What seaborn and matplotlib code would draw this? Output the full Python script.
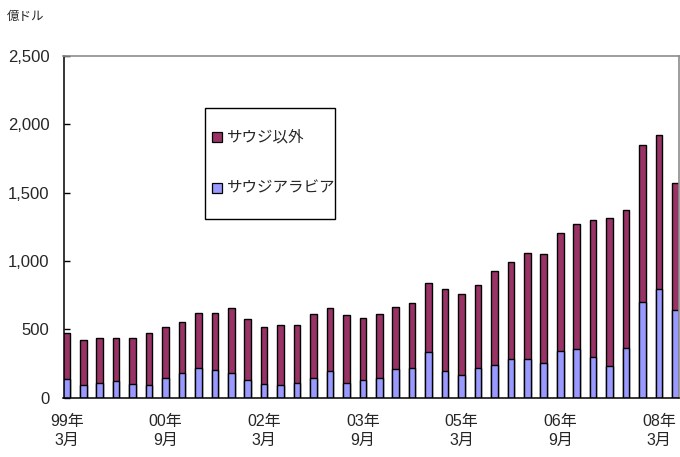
import matplotlib
matplotlib.use("Agg")
import matplotlib.pyplot as plt
from matplotlib.patches import Rectangle
from matplotlib.ticker import FuncFormatter, MultipleLocator
import pandas as pd
import seaborn as sns

# Quarterly periods, March 1999 to June 2008
periods = [f"{y:02d}年{m}月" for y in list(range(99, 100)) + list(range(0, 9))
           for m in (3, 6, 9, 12)][:38]

# Values in 100 million dollars
saudi = [139, 95, 110, 119, 102, 95, 144, 178, 214, 205,
         178, 129, 102, 95, 110, 145, 198, 105, 129, 146,
         207, 217, 332, 195, 163, 220, 236, 283, 283, 256,
         341, 354, 300, 232, 366, 700, 798, 639]
others = [332, 324, 326, 317, 334, 378, 376, 378, 408, 417,
          478, 449, 418, 436, 421, 470, 458, 503, 454, 469,
          459, 476, 507, 600, 595, 607, 689, 707, 776, 793,
          863, 917, 998, 1080, 1010, 1149, 1122, 930]

tick_idx = [0, 6, 12, 18, 24, 30, 36]
tick_labels = ["99年\n3月", "00年\n9月", "02年\n3月", "03年\n9月",
               "05年\n3月", "06年\n9月", "08年\n3月"]

legend_labels = ["サウジ以外", "サウジアラビア"]
unit_label = "億ドル"

col_others = "#993366"
col_saudi = "#9999FF"

sns.set_style("white")
plt.rcParams["font.family"] = ["Liberation Sans", "Noto Sans CJK JP"]

df = pd.DataFrame({"period": periods, "saudi": saudi, "others": others})
df["total"] = df["saudi"] + df["others"]

W, H = 680, 457
fig = plt.figure(figsize=(W / 100, H / 100), dpi=100)
ax = fig.add_axes([63.5 / W, (H - 397.7) / H, (679.3 - 63.5) / W, (397.7 - 56) / H])

bar_kw = dict(width=0.4, edgecolor="black", linewidth=1.0, saturation=1,
              errorbar=None, order=periods, ax=ax)
# Stacked bars: full height drawn first, Saudi share drawn over it
sns.barplot(data=df, x="period", y="total", color=col_others, **bar_kw)
sns.barplot(data=df, x="period", y="saudi", color=col_saudi, **bar_kw)

ax.set_xlim(-0.2, 37.24)
ax.set_ylim(0, 2500)
ax.yaxis.set_major_locator(MultipleLocator(500))
ax.yaxis.set_major_formatter(FuncFormatter(lambda v, p: f"{int(v):,}"))
ax.set_xticks(tick_idx)
ax.set_xticklabels(tick_labels, fontsize=11.5, linespacing=1.3)
ax.set_xlabel("")
ax.set_ylabel("")

ax.tick_params(axis="x", length=0, pad=12)
ax.tick_params(axis="y", direction="in", length=4, width=1, color="black",
               pad=10, labelsize=12, left=True)

for side in ("left", "bottom"):
    ax.spines[side].set_color("black")
    ax.spines[side].set_linewidth(1.1)
for side in ("top", "right"):
    ax.spines[side].set_visible(True)
    ax.spines[side].set_color("#8c8c8c")
    ax.spines[side].set_linewidth(1.2)

# Legend box
def fx(px):
    return px / W

def fy(py):
    return 1 - py / H

fig.patches.append(Rectangle((fx(205), fy(219)), fx(335) - fx(205), fy(108) - fy(219),
                             transform=fig.transFigure, facecolor="white",
                             edgecolor="black", linewidth=1, zorder=5))
for label, col, cy in zip(legend_labels, [col_others, col_saudi], [137, 188]):
    fig.patches.append(Rectangle((fx(212), fy(cy + 5)), fx(10), 10 / H,
                                 transform=fig.transFigure, facecolor=col,
                                 edgecolor="black", linewidth=0.9, zorder=6))
    fig.text(fx(227), fy(cy), label, fontsize=11.2, va="center", ha="left", zorder=7)

fig.text(fx(7), fy(17), unit_label, fontsize=9, va="center", ha="left")

fig.savefig("out.png", dpi=100)
